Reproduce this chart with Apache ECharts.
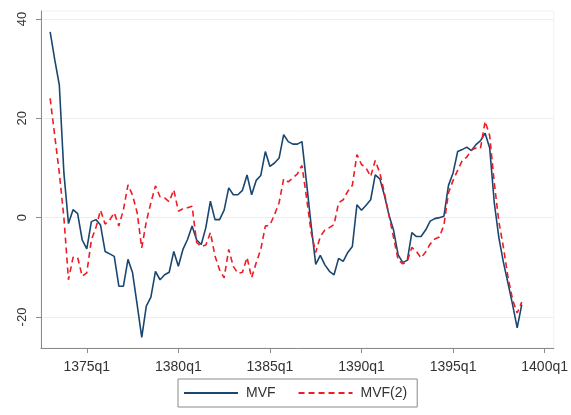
<!DOCTYPE html>
<html>
<head>
<meta charset="utf-8">
<script src="https://cdn.jsdelivr.net/npm/echarts@6/dist/echarts.min.js"></script>
<style>
  html, body { margin: 0; padding: 0; background: #fff; }
  #chart { width: 571px; height: 415px; }
</style>
</head>
<body>
<div id="chart"></div>
<script>
// quarters shown on the axis: 1372q3 .. 1400q3
var quarters = [];
for (var y = 1372; y <= 1400; y++) {
  for (var q = 1; q <= 4; q++) {
    quarters.push(y + 'q' + q);
  }
}
quarters = quarters.slice(quarters.indexOf('1372q3'), quarters.indexOf('1400q3') + 1);

// both series start in 1373q1 (one value per quarter)
var dataStart = '1373q1';

var mvf = [
  37.4, 31.8, 26.7, 9.0, -1.2, 1.6, 0.8, -4.5, -6.3, -0.8,
  -0.4, -1.5, -6.8, -7.3, -7.8, -13.8, -13.8, -8.4, -11.1, -17.5,
  -24.1, -17.8, -16.0, -10.8, -12.5, -11.5, -11.0, -6.8, -9.8, -6.4,
  -4.4, -1.7, -4.5, -5.4, -2.0, 3.3, -0.4, -0.4, 1.5, 6.0,
  4.6, 4.6, 5.5, 8.6, 4.6, 7.5, 8.5, 13.3, 10.3, 11.0,
  12.0, 16.7, 15.3, 14.8, 14.8, 15.3, 7.0, -1.5, -9.4, -7.6,
  -9.5, -10.8, -11.5, -8.2, -8.8, -7.0, -5.8, 2.6, 1.5, 2.5,
  3.6, 8.6, 7.8, 4.5, 0.5, -2.5, -7.5, -9.0, -8.6, -3.0,
  -3.8, -3.8, -2.5, -0.7, -0.2, 0.0, 0.3, 6.5, 9.0, 13.3,
  13.7, 14.2, 13.5, 14.7, 15.5, 17.0, 14.0, 3.0, -4.0, -9.0,
  -13.2, -17.5, -22.2, -17.5
];

var mvf2 = [
  24.0, 16.5, 9.0, 0.0, -12.5, -8.0, -8.0, -11.8, -11.1, -4.5,
  -2.0, 1.5, -1.3, -0.5, 1.0, -1.7, 1.6, 6.6, 4.5, 1.0,
  -6.1, -0.8, 3.0, 6.4, 4.2, 4.0, 3.2, 5.6, 1.3, 1.8,
  2.0, 2.3, -5.0, -5.8, -5.5, -3.0, -7.7, -10.5, -12.1, -6.4,
  -9.8, -11.2, -11.0, -8.0, -12.1, -9.1, -6.4, -1.7, -1.5, 0.6,
  3.0, 7.8, 7.2, 8.0, 8.8, 10.5, 4.0, -3.0, -7.0, -3.8,
  -2.5, -2.0, -1.4, 3.0, 3.6, 5.3, 6.5, 12.7, 10.7, 10.0,
  8.3, 11.5, 9.0, 5.0, 0.5, -4.0, -8.5, -9.3, -8.8, -6.0,
  -6.8, -8.1, -6.9, -5.3, -4.3, -3.9, -1.5, 5.0, 7.5, 9.5,
  11.5, 12.2, 13.6, 14.0, 14.0, 19.4, 16.5, 7.0, -0.8, -6.0,
  -12.0, -16.5, -19.2, -17.0
];

var yTicks = [-20, 0, 20, 40];
var xTickLabels = ['1375q1', '1380q1', '1385q1', '1390q1', '1395q1', '1400q1'];

function toPairs(values) {
  var start = quarters.indexOf(dataStart);
  return values.map(function (v, i) { return [quarters[start + i], v]; });
}

function isLabelled(index, value) {
  return xTickLabels.indexOf(value) >= 0;
}

var font = 'Liberation Sans, Arial, Helvetica, sans-serif';
var axisGrey = '#8a8a8a';

var chart = echarts.init(document.getElementById('chart'));
chart.setOption({
  animation: false,
  backgroundColor: '#fff',
  grid: {
    left: 41, right: 17, top: 11, bottom: 67,
    show: true, borderColor: '#eef1f4', borderWidth: 1
  },
  xAxis: {
    type: 'category',
    data: quarters,
    boundaryGap: false,
    axisLine: { onZero: false, lineStyle: { color: axisGrey, width: 1 } },
    axisTick: { interval: isLabelled, length: 5, lineStyle: { color: axisGrey } },
    axisLabel: {
      interval: isLabelled, margin: 12,
      fontSize: 14, fontFamily: font, color: '#333'
    },
    splitLine: { show: false }
  },
  yAxis: {
    type: 'value',
    min: -26.24, max: 41.6,
    axisLine: { show: true, lineStyle: { color: axisGrey, width: 1 } },
    axisTick: { show: true, customValues: yTicks, length: 5, lineStyle: { color: axisGrey } },
    axisLabel: {
      customValues: yTicks, rotate: 90, margin: 12,
      fontSize: 13, fontFamily: font, color: '#333'
    },
    splitLine: { show: true, lineStyle: { color: '#eaeef1', width: 1 } }
  },
  legend: {
    left: 178, top: 379,
    orient: 'horizontal',
    itemWidth: 54, itemHeight: 14, itemGap: 22,
    padding: [7, 10, 7, 5],
    borderColor: '#8a8a8a', borderWidth: 1,
    backgroundColor: '#fff',
    itemStyle: { opacity: 0 },
    textStyle: { fontSize: 14, fontFamily: font, color: '#333', padding: [0, 0, 0, 3] },
    data: ['MVF', 'MVF(2)']
  },
  series: [
    {
      name: 'MVF', type: 'line',
      data: toPairs(mvf),
      showSymbol: false, symbol: 'none',
      lineStyle: { color: '#1a476f', width: 1.6 },
      itemStyle: { color: '#1a476f' }
    },
    {
      name: 'MVF(2)', type: 'line',
      data: toPairs(mvf2),
      showSymbol: false, symbol: 'none',
      lineStyle: { color: '#ee1c25', width: 1.6, type: [6, 4] },
      itemStyle: { color: '#ee1c25' }
    }
  ]
});
</script>
</body>
</html>
